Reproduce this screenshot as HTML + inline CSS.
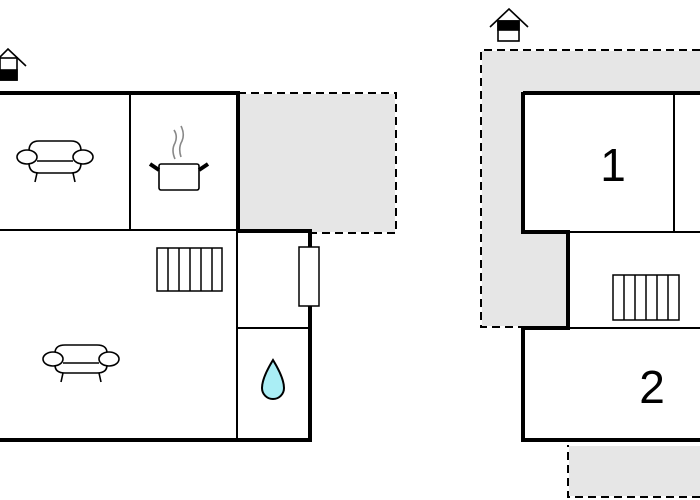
<!DOCTYPE html>
<html><head><style>html,body{margin:0;padding:0;background:#fff}svg{display:block}</style></head>
<body>
<svg width="700" height="500" viewBox="0 0 700 500" xmlns="http://www.w3.org/2000/svg">
<rect x="239" y="94" width="156" height="138" fill="#e6e6e6"/>
<rect x="482" y="51" width="218" height="41" fill="#e6e6e6"/>
<rect x="482" y="51" width="40" height="275" fill="#e6e6e6"/>
<rect x="482" y="233" width="85" height="93" fill="#e6e6e6"/>
<rect x="569" y="446" width="131" height="50" fill="#e6e6e6"/>
<g fill="none" stroke="#000" stroke-width="2" stroke-dasharray="8,5">
<path d="M238 93 H396 V233 H310"/>
<path d="M700 50 H481 V327 H568"/>
<path d="M700 497 H568 V445"/>
</g>
<g stroke="#000" fill="none">
<path d="M0 93 H238 V231 H310 V440 H0" stroke-width="4"/>
<path d="M130 93 V230 M0 230 H237 M237 230 V440 M237 328 H309" stroke-width="2"/>
<rect x="299" y="247" width="20" height="59" fill="#fff" stroke-width="1.5"/>
<path d="M523 93 H700 M523 92 V232 H568 V328 H523 V440 H700" stroke-width="4"/>
<path d="M674 93 V232 M568 232 H700 M568 328 H700" stroke-width="2"/>
</g>
<g stroke="#000" fill="#fff" stroke-width="1.5">
<rect x="157" y="248" width="65" height="43"/>
<path d="M168 248 V291 M179 248 V291 M190 248 V291 M201 248 V291 M212 248 V291"/>
<rect x="613" y="275" width="66" height="45"/>
<path d="M624 275 V320 M635 275 V320 M646 275 V320 M657 275 V320 M668 275 V320"/>
</g>
<g stroke="#000" fill="#fff" stroke-width="1.6">
<g transform="translate(55,159)">
<path d="M-26 -8 Q-26 -18 -16 -18 H16 Q26 -18 26 -8 V4 Q26 14 16 14 H-16 Q-26 14 -26 4 Z"/>
<ellipse cx="-28" cy="-2" rx="10" ry="7"/><ellipse cx="28" cy="-2" rx="10" ry="7"/>
<path d="M-18 2 H18 M-18 14 L-20 23 M18 14 L20 23"/>
</g>
<g transform="translate(81,361)">
<path d="M-26 -8 Q-26 -16 -16 -16 H16 Q26 -16 26 -8 V4 Q26 12 16 12 H-16 Q-26 12 -26 4 Z"/>
<ellipse cx="-28" cy="-2" rx="10" ry="7"/><ellipse cx="28" cy="-2" rx="10" ry="7"/>
<path d="M-18 2 H18 M-18 12 L-20 21 M18 12 L20 21"/>
</g>
<rect x="159" y="164" width="40" height="26" rx="2"/>
<path d="M159 170 L150 164 M199 170 L208 164" stroke-width="4"/>
<path d="M175 159 Q171 150 175 143 Q178 136 174 130 M181 157 Q178 148 182 141 Q185 134 181 126" stroke="#888" fill="none"/>
<path d="M273 360 Q262 378 262 388 A11 11 0 0 0 284 388 Q284 378 273 360 Z" fill="#aaeef5" stroke-width="2"/>
</g>
<g stroke="#000" stroke-width="1.6">
<path d="M-4 61 L8 49 L26 66" fill="none"/>
<rect x="0" y="58" width="17" height="22" fill="#fff"/>
<rect x="0" y="70" width="17" height="10" fill="#000"/>
<path d="M490 27 L509 9 L528 27" fill="none"/>
<rect x="498" y="21" width="21" height="20" fill="#fff"/>
<rect x="498" y="21" width="21" height="9" fill="#000"/>
</g>
<text x="613" y="181" font-family="Liberation Sans, sans-serif" font-size="46" text-anchor="middle">1</text>
<text x="652" y="403" font-family="Liberation Sans, sans-serif" font-size="46" text-anchor="middle">2</text>
</svg>
</body></html>
